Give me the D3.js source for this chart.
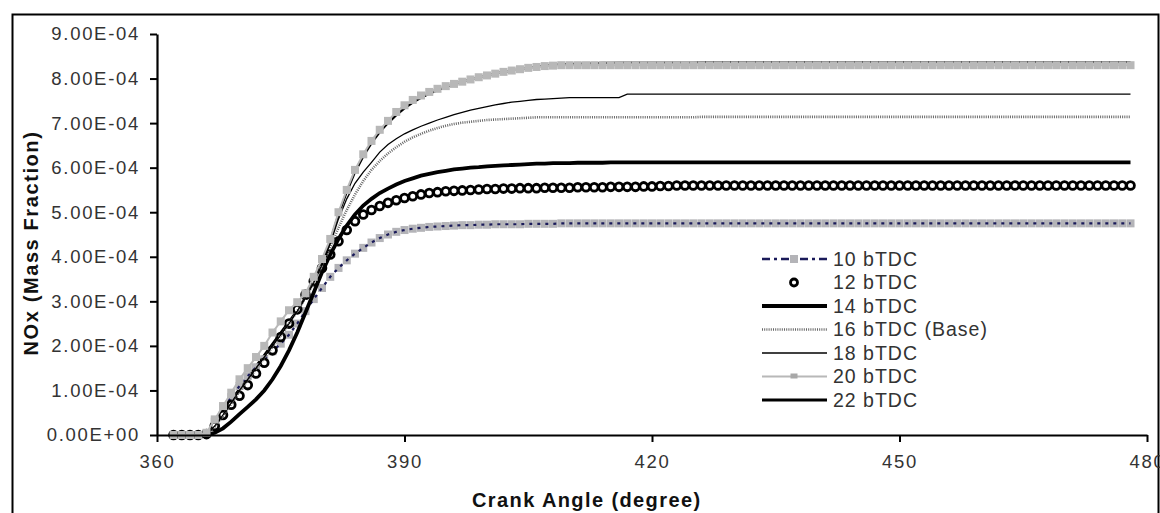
<!DOCTYPE html>
<html>
<head>
<meta charset="utf-8">
<script src="https://cdn.jsdelivr.net/npm/d3@7"></script>
<style>
  html, body { margin: 0; padding: 0; background: #fff; }
  svg { display: block; }
  text { font-family: Arial, "Liberation Sans", sans-serif; }
</style>
</head>
<body>
<svg id="chart" width="1160" height="513"></svg>
<script>
// NOx mass fraction vs crank angle for several injection timings.
// Values are in units of 1e-4 (mass fraction), one sample per degree from 362 to 478.
const UNIT = 1e-4;
const angleStart = 362;
const angleEnd = 478;

const seriesNames = ["10 bTDC", "12 bTDC", "14 bTDC", "16 bTDC (Base)", "18 bTDC", "20 bTDC", "22 bTDC"];

const nox10 = [
  0, 0, 0, 0,
  0.03, 0.3, 0.58, 0.85, 1.1, 1.32, 1.52, 1.7, 1.88, 2.05,
  2.25, 2.5, 2.78, 3.05, 3.3, 3.55, 3.75, 3.92, 4.07, 4.2,
  4.32, 4.42, 4.5, 4.56, 4.6, 4.63, 4.65, 4.67, 4.68, 4.69,
  4.7, 4.71, 4.71, 4.72, 4.72, 4.73, 4.73, 4.73, 4.73, 4.74,
  4.74, 4.74, 4.74, 4.75, 4.75, 4.75, 4.75, 4.75, 4.75, 4.75,
  4.75, 4.75, 4.75, 4.75, 4.75, 4.75, 4.75, 4.75, 4.75, 4.75,
  4.75, 4.75, 4.75, 4.75, 4.75, 4.75, 4.75, 4.75, 4.75, 4.75,
  4.75, 4.75, 4.75, 4.75, 4.75, 4.75, 4.75, 4.75, 4.75, 4.75,
  4.75, 4.75, 4.75, 4.75, 4.75, 4.75, 4.75, 4.75, 4.75, 4.75,
  4.75, 4.75, 4.75, 4.75, 4.75, 4.75, 4.75, 4.75, 4.75, 4.75,
  4.75, 4.75, 4.75, 4.75, 4.75, 4.75, 4.75, 4.75, 4.75, 4.75,
  4.75, 4.75, 4.75
];

const nox12 = [
  0, 0, 0, 0,
  0.02, 0.2, 0.45, 0.68, 0.88, 1.12, 1.38, 1.62, 1.9, 2.2,
  2.5, 2.82, 3.15, 3.45, 3.75, 4.05, 4.35, 4.6, 4.8, 4.95,
  5.05, 5.14, 5.21, 5.27, 5.32, 5.36, 5.4, 5.43, 5.45, 5.47,
  5.48, 5.49, 5.5, 5.51, 5.52, 5.52, 5.53, 5.53, 5.54, 5.54,
  5.54, 5.55, 5.55, 5.55, 5.55, 5.56, 5.56, 5.56, 5.56, 5.57,
  5.57, 5.57, 5.57, 5.58, 5.58, 5.59, 5.59, 5.6, 5.6, 5.6,
  5.6, 5.6, 5.6, 5.6, 5.6, 5.6, 5.6, 5.6, 5.6, 5.6,
  5.6, 5.6, 5.6, 5.6, 5.6, 5.6, 5.6, 5.6, 5.6, 5.6,
  5.6, 5.6, 5.6, 5.6, 5.6, 5.6, 5.6, 5.6, 5.6, 5.6,
  5.6, 5.6, 5.6, 5.6, 5.6, 5.6, 5.6, 5.6, 5.6, 5.6,
  5.6, 5.6, 5.6, 5.6, 5.6, 5.6, 5.6, 5.6, 5.6, 5.6,
  5.6, 5.6, 5.6
];

const nox14 = [
  0, 0, 0, 0,
  0, 0.05, 0.15, 0.3, 0.47, 0.63, 0.8, 1.0, 1.25, 1.55,
  1.9, 2.3, 2.75, 3.2, 3.65, 4.05, 4.4, 4.7, 4.95, 5.15,
  5.3, 5.43, 5.53, 5.62, 5.7, 5.76, 5.82, 5.86, 5.9, 5.93,
  5.96, 5.98, 6.0, 6.01, 6.03, 6.04, 6.05, 6.06, 6.07, 6.08,
  6.09, 6.09, 6.1, 6.1, 6.1, 6.11, 6.11, 6.11, 6.11, 6.12,
  6.12, 6.12, 6.12, 6.12, 6.12, 6.12, 6.12, 6.12, 6.12, 6.12,
  6.12, 6.12, 6.12, 6.12, 6.12, 6.12, 6.12, 6.12, 6.12, 6.12,
  6.12, 6.12, 6.12, 6.12, 6.12, 6.12, 6.12, 6.12, 6.12, 6.12,
  6.12, 6.12, 6.12, 6.12, 6.12, 6.12, 6.12, 6.12, 6.12, 6.12,
  6.12, 6.12, 6.12, 6.12, 6.12, 6.12, 6.12, 6.12, 6.12, 6.12,
  6.12, 6.12, 6.12, 6.12, 6.12, 6.12, 6.12, 6.12, 6.12, 6.12,
  6.12, 6.12, 6.12
];

const nox16 = [
  0, 0, 0, 0,
  0.02, 0.18, 0.42, 0.7, 0.98, 1.23, 1.48, 1.73, 1.98, 2.23,
  2.5, 2.78, 3.08, 3.42, 3.8, 4.22, 4.65, 5.05, 5.4, 5.7,
  5.95, 6.15, 6.32, 6.46, 6.58, 6.68, 6.76, 6.83, 6.89, 6.94,
  6.98, 7.01, 7.03, 7.05, 7.07, 7.08, 7.09, 7.1, 7.11, 7.12,
  7.13, 7.13, 7.13, 7.13, 7.13, 7.13, 7.13, 7.13, 7.13, 7.13,
  7.13, 7.13, 7.13, 7.13, 7.13, 7.13, 7.13, 7.13, 7.13, 7.13,
  7.14, 7.14, 7.14, 7.14, 7.14, 7.14, 7.14, 7.14, 7.14, 7.14,
  7.14, 7.14, 7.14, 7.14, 7.14, 7.14, 7.14, 7.14, 7.14, 7.14,
  7.14, 7.14, 7.14, 7.14, 7.14, 7.14, 7.14, 7.14, 7.14, 7.14,
  7.14, 7.14, 7.14, 7.14, 7.14, 7.14, 7.14, 7.14, 7.14, 7.14,
  7.14, 7.14, 7.14, 7.14, 7.14, 7.14, 7.14, 7.14, 7.14, 7.14,
  7.14, 7.14, 7.14
];

const nox18 = [
  0, 0, 0, 0,
  0.02, 0.2, 0.45, 0.72, 1.0, 1.25, 1.5, 1.75, 2.0, 2.25,
  2.5, 2.78, 3.08, 3.42, 3.82, 4.3, 4.85, 5.3, 5.65, 5.9,
  6.12, 6.35, 6.52, 6.65, 6.76, 6.85, 6.93, 7.0, 7.07, 7.13,
  7.19, 7.24, 7.29, 7.33, 7.37, 7.41, 7.44, 7.47, 7.49, 7.51,
  7.53, 7.54, 7.55, 7.56, 7.57, 7.57, 7.57, 7.57, 7.57, 7.57,
  7.57, 7.65, 7.65, 7.65, 7.65, 7.65, 7.65, 7.65, 7.65, 7.65,
  7.65, 7.65, 7.65, 7.65, 7.65, 7.65, 7.65, 7.65, 7.65, 7.65,
  7.65, 7.65, 7.65, 7.65, 7.65, 7.65, 7.65, 7.65, 7.65, 7.65,
  7.65, 7.65, 7.65, 7.65, 7.65, 7.65, 7.65, 7.65, 7.65, 7.65,
  7.65, 7.65, 7.65, 7.65, 7.65, 7.65, 7.65, 7.65, 7.65, 7.65,
  7.65, 7.65, 7.65, 7.65, 7.65, 7.65, 7.65, 7.65, 7.65, 7.65,
  7.65, 7.65, 7.65
];

const nox20 = [
  0, 0, 0, 0,
  0.05, 0.35, 0.65, 0.95, 1.25, 1.5, 1.75, 2.0, 2.3, 2.55,
  2.8, 2.98, 3.18, 3.55, 3.95, 4.4, 5.0, 5.5, 5.95, 6.3,
  6.6, 6.85, 7.05, 7.25, 7.4, 7.52, 7.62, 7.7, 7.77, 7.83,
  7.88, 7.93, 7.98, 8.03, 8.07, 8.11, 8.15, 8.18, 8.21, 8.24,
  8.26, 8.28, 8.29, 8.3, 8.3, 8.3, 8.3, 8.3, 8.3, 8.3,
  8.3, 8.3, 8.3, 8.3, 8.3, 8.3, 8.3, 8.3, 8.3, 8.3,
  8.3, 8.3, 8.3, 8.3, 8.3, 8.3, 8.3, 8.3, 8.3, 8.3,
  8.3, 8.3, 8.3, 8.3, 8.3, 8.3, 8.3, 8.3, 8.3, 8.3,
  8.3, 8.3, 8.3, 8.3, 8.3, 8.3, 8.3, 8.3, 8.3, 8.3,
  8.3, 8.3, 8.3, 8.3, 8.3, 8.3, 8.3, 8.3, 8.3, 8.3,
  8.3, 8.3, 8.3, 8.3, 8.3, 8.3, 8.3, 8.3, 8.3, 8.3,
  8.3, 8.3, 8.3
];

const nox22 = [
  0, 0, 0, 0,
  0.02, 0.2, 0.45, 0.75, 1.05, 1.3, 1.55, 1.8, 2.05, 2.3,
  2.55, 2.8, 3.1, 3.45, 3.85, 4.35, 4.95, 5.45, 5.9, 6.25,
  6.55, 6.8, 7.0, 7.18, 7.33, 7.46, 7.57, 7.66, 7.74, 7.81,
  7.87, 7.93, 7.98, 8.03, 8.07, 8.11, 8.15, 8.18, 8.21, 8.24,
  8.27, 8.29, 8.31, 8.32, 8.33, 8.33, 8.34, 8.34, 8.35, 8.35,
  8.36, 8.36, 8.36, 8.36, 8.36, 8.36, 8.36, 8.36, 8.36, 8.36,
  8.37, 8.37, 8.37, 8.37, 8.37, 8.37, 8.37, 8.37, 8.37, 8.37,
  8.37, 8.37, 8.37, 8.37, 8.37, 8.37, 8.37, 8.37, 8.37, 8.37,
  8.37, 8.37, 8.37, 8.37, 8.37, 8.37, 8.37, 8.37, 8.37, 8.37,
  8.37, 8.37, 8.37, 8.37, 8.37, 8.37, 8.37, 8.37, 8.37, 8.37,
  8.37, 8.37, 8.37, 8.37, 8.37, 8.37, 8.37, 8.37, 8.37, 8.37,
  8.37, 8.37, 8.37
];

const xTicks = [360, 390, 420, 450, 480];
const yTicks = [0, 1, 2, 3, 4, 5, 6, 7, 8, 9]; // in units of 1e-4
const xTitle = "Crank Angle (degree)";
const yTitle = "NOx (Mass Fraction)";

const angles = d3.range(angleStart, angleEnd + 1);

const svg = d3.select("#chart");
const plot = { left: 157, right: 1147, top: 34, bottom: 435 };

const x = d3.scaleLinear().domain([360, 480]).range([plot.left, plot.right]);
const y = d3.scaleLinear().domain([0, 9 * UNIT]).range([plot.bottom, plot.top]);

// outer frame
svg.append("rect")
  .attr("x", 12.5).attr("y", 14.5)
  .attr("width", 1146).attr("height", 520)
  .attr("fill", "#fff").attr("stroke", "#000").attr("stroke-width", 2);

const sciFormat = v => {
  const s = v.toExponential(2).toUpperCase();
  return s.replace(/E([+-])(\d)$/, "E$10$2");
};

const toPoints = arr => arr.map((v, i) => ({ a: angles[i], v: v * UNIT }));

const line = d3.line().x(d => x(d.a)).y(d => y(d.v));

const gSeries = svg.append("g");

// 22 bTDC – solid black
gSeries.append("path").datum(toPoints(nox22))
  .attr("d", line).attr("fill", "none")
  .attr("stroke", "#000").attr("stroke-width", 2.2);

// 10 bTDC – grey squares with navy dash-dot line
const p10 = toPoints(nox10);
gSeries.append("g").selectAll("rect").data(p10).join("rect")
  .attr("x", d => x(d.a) - 4).attr("y", d => y(d.v) - 4)
  .attr("width", 8).attr("height", 8)
  .attr("fill", "#b4b4b8");
gSeries.append("path").datum(p10)
  .attr("d", line).attr("fill", "none")
  .attr("stroke", "#1a1a5a").attr("stroke-width", 2.2)
  .attr("stroke-dasharray", "3,5");

// 12 bTDC – open circles
gSeries.append("g").selectAll("circle").data(toPoints(nox12)).join("circle")
  .attr("cx", d => x(d.a)).attr("cy", d => y(d.v)).attr("r", 3.9)
  .attr("fill", "#fff").attr("stroke", "#000").attr("stroke-width", 2.8);

// 14 bTDC – heavy black
gSeries.append("path").datum(toPoints(nox14))
  .attr("d", line).attr("fill", "none")
  .attr("stroke", "#000").attr("stroke-width", 3.8);

// 16 bTDC (Base) – dotted
gSeries.append("path").datum(toPoints(nox16))
  .attr("d", line).attr("fill", "none")
  .attr("stroke", "#666").attr("stroke-width", 2.6)
  .attr("stroke-dasharray", "1,1.2");

// 18 bTDC – thin black
gSeries.append("path").datum(toPoints(nox18))
  .attr("d", line).attr("fill", "none")
  .attr("stroke", "#000").attr("stroke-width", 1.3);

// 20 bTDC – grey line with grey square markers
const p20 = toPoints(nox20);
gSeries.append("path").datum(p20)
  .attr("d", line).attr("fill", "none")
  .attr("stroke", "#b8b8b8").attr("stroke-width", 2);
gSeries.append("g").selectAll("rect").data(p20).join("rect")
  .attr("x", d => x(d.a) - 4).attr("y", d => y(d.v) - 4)
  .attr("width", 8).attr("height", 8)
  .attr("fill", "#b8b8b8");

// axes
const axisX = svg.append("g")
  .attr("transform", `translate(0,${plot.bottom})`)
  .call(d3.axisBottom(x).tickValues(xTicks).tickSize(7).tickSizeOuter(0).tickFormat(d3.format("d")));
const axisY = svg.append("g")
  .attr("transform", `translate(${plot.left},0)`)
  .call(d3.axisLeft(y).tickValues(yTicks.map(t => t * UNIT)).tickSize(7).tickSizeOuter(0).tickFormat(sciFormat));

[axisX, axisY].forEach(g => {
  g.select(".domain").attr("stroke", "#000").attr("stroke-width", 2.2);
  g.selectAll(".tick line").attr("stroke", "#000").attr("stroke-width", 2);
  g.selectAll(".tick text")
    .attr("fill", "#333").style("font-size", "18.5px")
    .style("letter-spacing", "1.7px")
    .style("font-family", "Arial, 'Liberation Sans', sans-serif");
});
axisX.selectAll(".tick text").attr("dy", "1.25em");
axisY.selectAll(".tick text").attr("x", -17);

// axis titles
svg.append("text")
  .attr("x", 472).attr("y", 507)
  .style("font-size", "20px").style("font-weight", "bold")
  .style("letter-spacing", "1.4px")
  .attr("fill", "#111")
  .text(xTitle);

svg.append("text")
  .attr("transform", "translate(38,243) rotate(-90)")
  .attr("text-anchor", "middle")
  .style("font-size", "20px").style("font-weight", "bold")
  .style("letter-spacing", "1.6px")
  .attr("fill", "#111")
  .text(yTitle);

// legend
const legend = svg.append("g");
const lx0 = 762, lx1 = 827, lxm = 794, ltx = 833;
const rowY = i => 259 + i * 23.5;

seriesNames.forEach((name, i) => {
  const ry = rowY(i);
  const g = legend.append("g");
  if (i === 0) {
    g.append("line").attr("x1", lx0).attr("x2", lx1).attr("y1", ry).attr("y2", ry)
      .attr("stroke", "#1a1a5a").attr("stroke-width", 2.6).attr("stroke-dasharray", "8,4,3,4");
    g.append("rect").attr("x", lxm - 4).attr("y", ry - 4).attr("width", 8).attr("height", 8).attr("fill", "#b4b4b8");
  } else if (i === 1) {
    g.append("circle").attr("cx", lxm).attr("cy", ry).attr("r", 3.5)
      .attr("fill", "#fff").attr("stroke", "#000").attr("stroke-width", 2.8);
  } else if (i === 2) {
    g.append("line").attr("x1", lx0).attr("x2", lx1).attr("y1", ry).attr("y2", ry)
      .attr("stroke", "#000").attr("stroke-width", 4);
  } else if (i === 3) {
    g.append("line").attr("x1", lx0).attr("x2", lx1).attr("y1", ry).attr("y2", ry)
      .attr("stroke", "#666").attr("stroke-width", 2.4).attr("stroke-dasharray", "1,1.2");
  } else if (i === 4) {
    g.append("line").attr("x1", lx0).attr("x2", lx1).attr("y1", ry).attr("y2", ry)
      .attr("stroke", "#000").attr("stroke-width", 1.3);
  } else if (i === 5) {
    g.append("line").attr("x1", lx0).attr("x2", lx1).attr("y1", ry).attr("y2", ry)
      .attr("stroke", "#b8b8b8").attr("stroke-width", 2);
    g.append("rect").attr("x", lxm - 3.5).attr("y", ry - 3).attr("width", 7).attr("height", 5).attr("fill", "#a8a8a8");
  } else {
    g.append("line").attr("x1", lx0).attr("x2", lx1).attr("y1", ry).attr("y2", ry)
      .attr("stroke", "#000").attr("stroke-width", 3);
  }
  g.append("text").attr("x", ltx).attr("y", ry).attr("dy", "0.35em")
    .style("font-size", "19.5px").style("letter-spacing", "1px")
    .attr("fill", "#333").text(name);
});
</script>
</body>
</html>
